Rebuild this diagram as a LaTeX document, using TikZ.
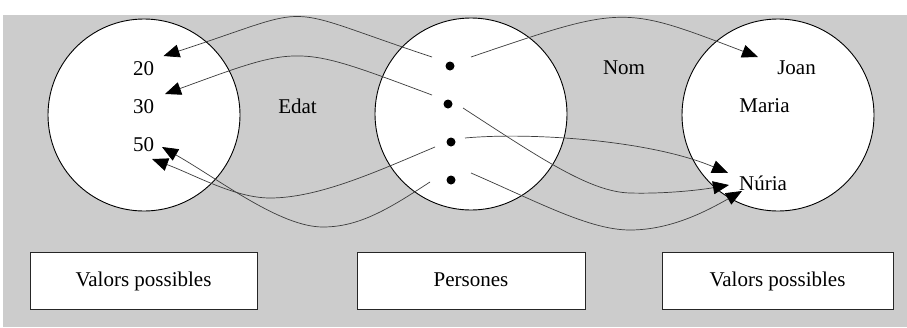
\documentclass[tikz,border=0pt]{standalone}
\usepackage{fontspec}
\setmainfont{Liberation Serif}
\usetikzlibrary{arrows.meta}
\definecolor{panel}{RGB}{204,204,204}
\definecolor{wire}{RGB}{60,60,60}
\begin{document}
\begin{tikzpicture}[x=1pt,y=-1pt,
  set/.style={circle,draw=black,line width=0.9pt,fill=white,minimum size=192pt,inner sep=0pt},
  lbl/.style={font=\fontsize{21}{25}\selectfont,inner sep=0pt,anchor=base},
  elem/.style={circle,fill=black,minimum size=9pt,inner sep=0pt},
  tag/.style={draw=black!85,line width=0.8pt,fill=white,minimum height=57pt,
    font=\fontsize{21}{25}\selectfont,inner sep=0pt,text height=14pt,text depth=2pt},
  link/.style={draw=wire,line width=0.7pt,
    -{Triangle[length=16pt,width=13pt,color=black,fill=black]}}]
\useasboundingbox (0,0) rectangle (907,327);
\fill[panel] (3,15) rectangle (907,327);

% the three sets
\node[set] (edats) at (144,115) {};
\node[set] (persones) at (471,114) {};
\node[set] (noms) at (778,115) {};

% values of the age set
\node[lbl] (v20) at (143.5,75) {20};
\node[lbl] (v30) at (143.5,113) {30};
\node[lbl] (v50) at (143.5,151) {50};

% values of the name set
\node[lbl] (joan) at (796.5,74) {Joan};
\node[lbl] (maria) at (764.5,112) {Maria};
\node[lbl] (nuria) at (763,190) {Núria};

% attribute names
\node[lbl] (edat) at (297.5,113) {Edat};
\node[lbl] (nom) at (624,74) {Nom};

% the persons
\node[elem] (d1) at (450,66) {};
\node[elem] (d2) at (448,104) {};
\node[elem] (d3) at (451,142) {};
\node[elem] (d4) at (451,180) {};

% captions under the sets
\node[tag,minimum width=227pt] (capA) at (143.5,280.5) {Valors possibles};
\node[tag,minimum width=228pt] (capB) at (471,280.5) {Persones};
\node[tag,minimum width=231pt] (capC) at (777.5,280.5) {Valors possibles};

% start points of the links, next to each person
\coordinate (d1w) at ([shift={(-18,-9)}]d1.center);
\coordinate (d1e) at ([shift={(21,-9)}]d1.center);
\coordinate (d2w) at ([shift={(-16,-9)}]d2.center);
\coordinate (d2e) at ([shift={(15,4)}]d2.center);
\coordinate (d3w) at ([shift={(-16,5)}]d3.center);
\coordinate (d3e) at ([shift={(14,-4)}]d3.center);
\coordinate (d4w) at ([shift={(-21,2)}]d4.center);
\coordinate (d4e) at ([shift={(20,-7)}]d4.center);

% arrow tips, next to each value
\coordinate (t20) at ([shift={(20,-19)}]v20.base);
\coordinate (t30) at ([shift={(21.5,-19)}]v30.base);
\coordinate (t50a) at ([shift={(18.5,-4)}]v50.base);
\coordinate (t50b) at ([shift={(8.5,8)}]v50.base);
\coordinate (tjoan) at ([shift={(-38.5,-17)}]joan.base);
\coordinate (tnuA) at ([shift={(-35,-17)}]nuria.base);
\coordinate (tnuB) at ([shift={(-34,-5)}]nuria.base);
\coordinate (tnuC) at ([shift={(-21,1)}]nuria.base);

% age links
\draw[link] (d1w) .. controls (272,4) and (323,4) .. (t20);
\draw[link] (d2w) .. controls (295,44) and (302,44) .. (t30);
\draw[link] (d3w) .. controls (380,170) and (320,198) .. (270,198)
                  .. controls (235,198) and (195,175) .. (t50b);
\draw[link] (d4w) .. controls (390,208) and (360,227) .. (323,227)
                  .. controls (280,227) and (220,180) .. (t50a);

% name links
\draw[link] (d1e) .. controls (624,5) and (622,5) .. (tjoan);
\draw[link] (d3e) .. controls (530,132) and (650,140) .. (tnuA);
\draw[link] (d2e) .. controls (540,158) and (590,192) .. (630,193)
                  .. controls (665,194) and (700,190) .. (tnuB);
\draw[link] (d4e) .. controls (540,203) and (590,230) .. (630,230)
                  .. controls (670,230) and (705,212) .. (tnuC);
\end{tikzpicture}
\end{document}
